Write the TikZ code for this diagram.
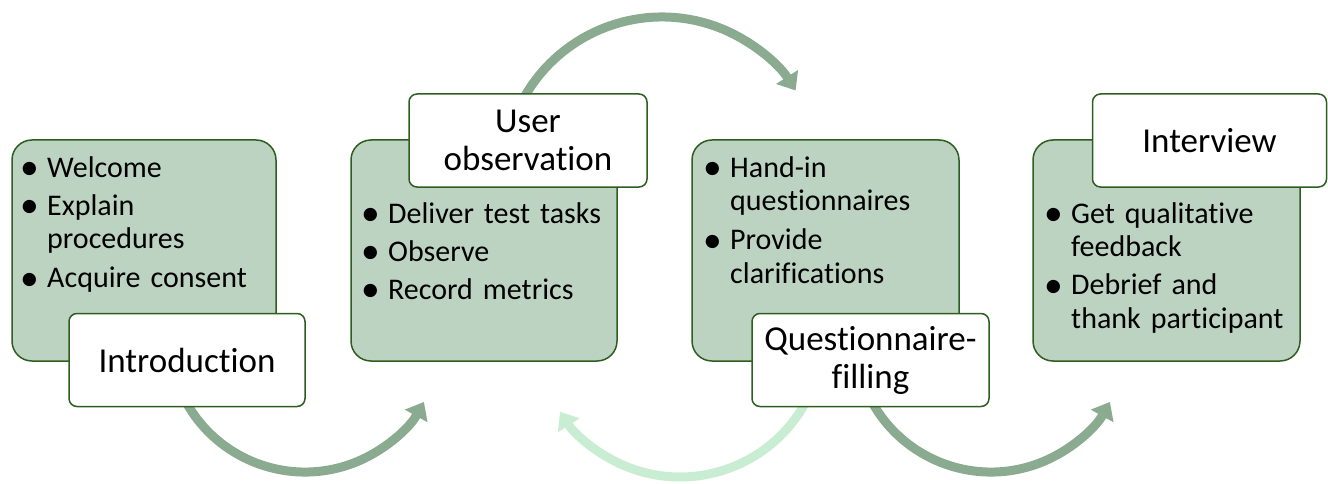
\documentclass[tikz,border=0pt]{standalone}
\usepackage{fontspec}
\setmainfont{Carlito}[Ligatures={NoCommon}]
\usetikzlibrary{arrows.meta}

\definecolor{panelfill}{HTML}{BCD3C2}
\definecolor{paneledge}{HTML}{2D5E20}
\definecolor{flowgreen}{HTML}{8AAB90}
\definecolor{flowlight}{HTML}{C8EDD3}

% bullet item and continuation line
\newcommand\listdot{\raisebox{-2.5pt}{\scalebox{1.25}{\textbullet}}}
\newcommand\stepitem[1]{\makebox[27pt][l]{\listdot}#1}
\newcommand\stepcont[1]{\hspace*{27pt}#1}

\tikzset{
  panel/.style={draw=paneledge, line width=1.5pt, fill=panelfill,
    rounded corners=20pt, minimum height=221pt, inner sep=0pt},
  tag/.style={draw=paneledge, line width=1.5pt, fill=white,
    rounded corners=8pt, minimum height=93pt, inner sep=0pt,
    align=center, font=\fontsize{35}{38}\selectfont},
  bullets/.style={anchor=base west, inner sep=0pt, text width=280pt,
    align=left, font=\fontsize{30}{33.5}\selectfont},
  flowarrow/.style={draw=#1, line width=9pt,
    -{Triangle[length=16pt,width=25pt]}},
}

\begin{document}
\begin{tikzpicture}[x=1pt,y=-1pt]
  \useasboundingbox (0,0) rectangle (1328,484);

  % curved transitions, drawn first so the boxes cover their tails
  \coordinate (a1) at (181.7,393.5);
  \coordinate (a2) at (518.5,108.4);
  \coordinate (a3) at (809.6,394.4);
  \coordinate (a4) at (867.7,393.5);
  \draw[flowarrow=flowgreen] (a1) arc[start angle=155, end angle=29, radius=136];
  \draw[flowarrow=flowgreen] (a2) arc[start angle=205, end angle=327.6, radius=158.3];
  \draw[flowarrow=flowlight] (a3) arc[start angle=25, end angle=147, radius=143];
  \draw[flowarrow=flowgreen] (a4) arc[start angle=155, end angle=29, radius=136];

  % step panels
  \node[panel, minimum width=264pt] (p1) at (144,250.5) {};
  \node[panel, minimum width=266pt] (p2) at (484,250.5) {};
  \node[panel, minimum width=267pt] (p3) at (825.5,250.5) {};
  \node[panel, minimum width=267pt] (p4) at (1166.5,250.5) {};

  % bullet lists
  \node[bullets] (l1) at (20,177) {\stepitem{Welcome}\\[4.5pt]
    \stepitem{Explain}\\ \stepcont{procedures}\\[5.5pt]
    \stepitem{Acquire consent}};
  \node[bullets] (l2) at (361,223) {\stepitem{Deliver test tasks}\\[4.5pt]
    \stepitem{Observe}\\[4.5pt]
    \stepitem{Record metrics}};
  \node[bullets] (l3) at (703,177) {\stepitem{Hand-in}\\
    \stepcont{questionnaires}\\[6pt]
    \stepitem{Provide}\\ \stepcont{clarifications}};
  \node[bullets] (l4) at (1044,223) {\stepitem{Get qualitative}\\
    \stepcont{feedback}\\[4.5pt]
    \stepitem{Debrief and}\\ \stepcont{thank participant}};

  % step titles
  \node[tag, minimum width=236pt] (t1) at (187,360) {Introduction};
  \node[tag, minimum width=238pt] (t2) at (528,140.5) {User\\observation};
  \node[tag, minimum width=237pt] (t3) at (870.5,360) {Questionnaire-\\filling};
  \node[tag, minimum width=234pt] (t4) at (1209.5,140.5) {Interview};
\end{tikzpicture}
\end{document}
